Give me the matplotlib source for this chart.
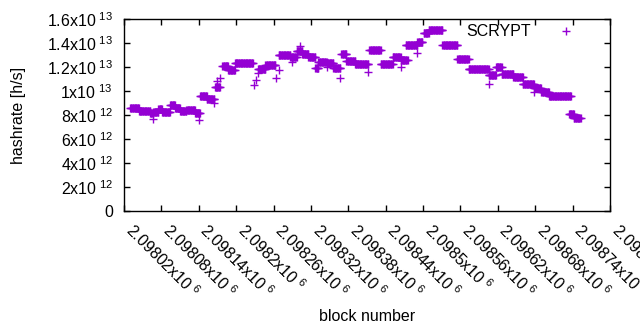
import numpy as np
import matplotlib
matplotlib.use('Agg')
import matplotlib.pyplot as plt
from matplotlib.ticker import FuncFormatter, MultipleLocator

plt.rcParams['font.family'] = ['Liberation Sans', 'DejaVu Sans']
plt.rcParams['mathtext.default'] = 'regular'

## ------------ data --------------------------------------
## plateaus of constant hashrate: first block, last block, hashrate (x1e12 h/s)
seg_start = [2098030, 2098044, 2098062, 2098067, 2098075, 2098081, 2098094, 2098102,
             2098110, 2098120, 2098134, 2098142, 2098153, 2098166, 2098178, 2098187,
             2098198, 2098235, 2098247, 2098268, 2098287, 2098297, 2098306, 2098316,
             2098327, 2098332, 2098345, 2098356, 2098369, 2098377, 2098391, 2098414,
             2098432, 2098451, 2098464, 2098472, 2098491, 2098501, 2098509, 2098531,
             2098555, 2098573, 2098605, 2098617, 2098626, 2098645, 2098660, 2098678,
             2098690, 2098702, 2098734, 2098742]
seg_end = [2098044, 2098062, 2098067, 2098075, 2098081, 2098094, 2098102, 2098110,
           2098120, 2098134, 2098142, 2098153, 2098165, 2098174, 2098187, 2098198,
           2098227, 2098247, 2098263, 2098287, 2098297, 2098306, 2098316, 2098327,
           2098332, 2098345, 2098356, 2098367, 2098377, 2098391, 2098412, 2098432,
           2098451, 2098464, 2098475, 2098491, 2098499, 2098509, 2098531, 2098555,
           2098573, 2098605, 2098617, 2098626, 2098645, 2098660, 2098678, 2098689,
           2098702, 2098737, 2098742, 2098753]
seg_value = [8.55, 8.3, 8.2, 8.25, 8.5, 8.25, 8.8, 8.6,
             8.3, 8.45, 8.15, 9.55, 9.3, 10.3, 12.1, 11.75,
             12.3, 11.8, 12.2, 13.0, 12.85, 13.3, 13.1, 12.85,
             11.9, 12.45, 12.3, 11.9, 13.1, 12.5, 12.25, 13.4,
             12.25, 12.8, 12.6, 13.8, 14.1, 14.85, 15.1, 13.85,
             12.7, 11.85, 11.3, 12.0, 11.4, 11.2, 10.6, 10.25,
             9.9, 9.6, 8.1, 7.75]

## single blocks that stand off the plateaus
out_block = [2098066, 2098141, 2098165, 2098170, 2098174, 2098229, 2098232, 2098235,
             2098264, 2098268, 2098289, 2098303, 2098345, 2098367, 2098412, 2098465,
             2098491, 2098605, 2098678]
out_value = [7.7, 7.6, 9.0, 10.8, 11.1, 10.5, 10.9, 11.5,
             11.1, 11.75, 12.4, 13.75, 12.0, 11.1, 11.6, 12.0,
             13.2, 10.6, 9.95]
## --------------------------------------------------------

blocks = []
rates = []
for s, e, v in zip(seg_start, seg_end, seg_value):
    b = np.arange(s, e + 1)
    blocks.append(b)
    rates.append(np.full(len(b), v * 1e12))
blocks.append(np.array(out_block))
rates.append(np.array(out_value) * 1e12)
blocks = np.concatenate(blocks)
rates = np.concatenate(rates)

fs = 11.5
fig = plt.figure(figsize=(6.4, 3.3), dpi=100)
ax = fig.add_axes([124/640, 1 - 211/330, 486/640, 192/330])

ax.plot(blocks, rates, ls='', marker='+', ms=5.8, mew=1.0, color='#9400D3', label='SCRYPT')

ax.set_xlim(2098020, 2098800)
ax.set_ylim(0, 1.6e13)
ax.xaxis.set_major_locator(MultipleLocator(60))
ax.yaxis.set_major_locator(MultipleLocator(2e12))


def sci_fmt(v, pos):
    if v == 0:
        return '0'
    e = int(np.floor(np.log10(abs(v)) + 1e-9))
    m = v / 10**e
    ms = f'{m:.6g}'
    return ms + 'x10$^{\\ ' + str(e) + '}$'


ax.xaxis.set_major_formatter(FuncFormatter(sci_fmt))
ax.yaxis.set_major_formatter(FuncFormatter(sci_fmt))

ax.tick_params(direction='in', top=True, right=True, length=4, width=1,
               labelsize=fs, colors='black')
ax.tick_params(axis='y', pad=8)
ax.tick_params(axis='x', pad=15)
for lab in ax.get_xticklabels():
    lab.set_rotation(-45)
    lab.set_ha('left')
    lab.set_va('baseline')
    lab.set_rotation_mode('anchor')

for sp in ax.spines.values():
    sp.set_linewidth(1)
    sp.set_color('black')

ax.set_xlabel('block number', fontsize=fs)
ax.set_ylabel('hashrate [h/s]', fontsize=fs)
ax.xaxis.set_label_coords(0.5, (211 - 309) / 192)
ax.yaxis.set_label_coords((26 - 124) / 486, 0.5)

ax.legend(loc='center right', bbox_to_anchor=((587-124)/486, (211-32)/192),
          frameon=False, markerfirst=False, fontsize=fs,
          handlelength=2.6, handletextpad=0.9, borderpad=0, borderaxespad=0)

fig.savefig('out.png', dpi=100)
